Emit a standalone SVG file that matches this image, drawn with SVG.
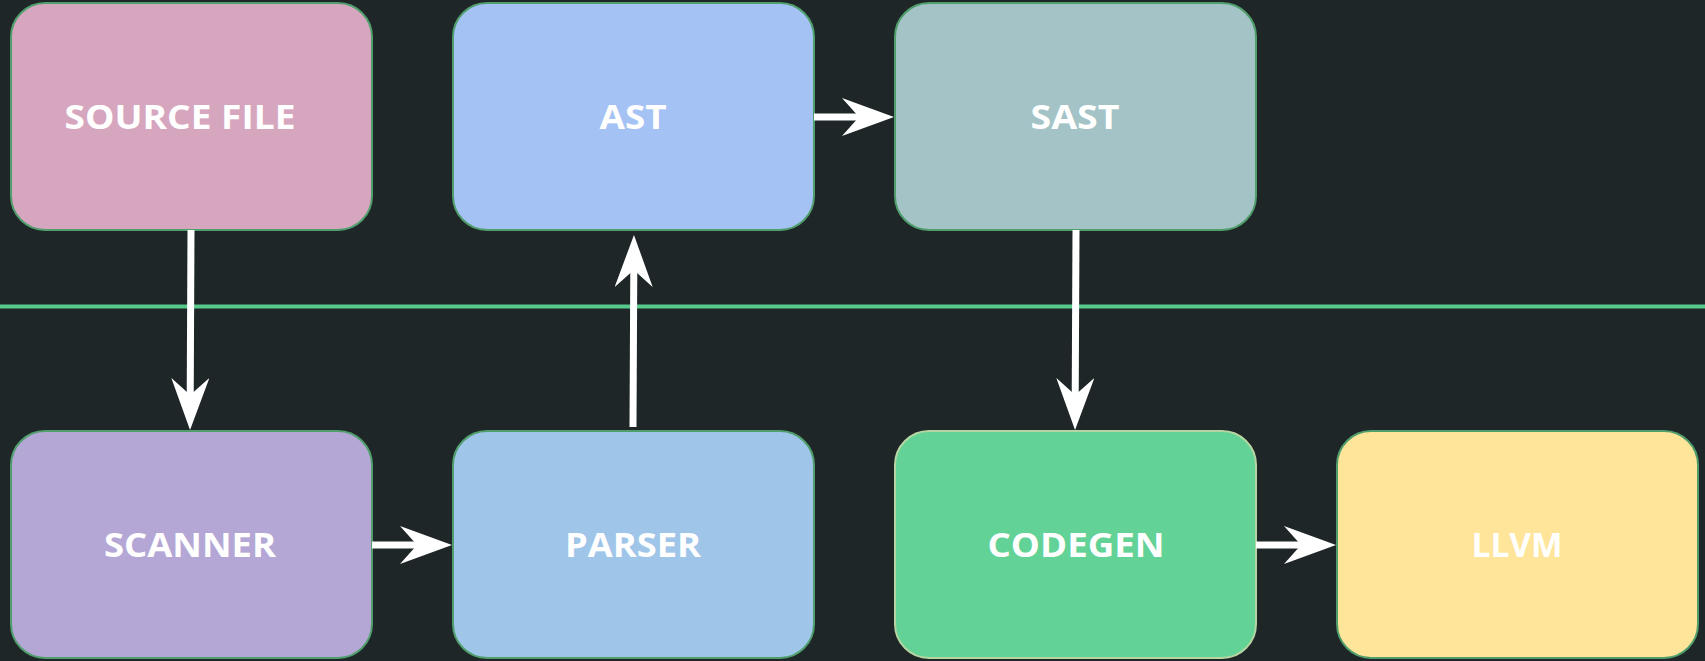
<svg xmlns="http://www.w3.org/2000/svg" width="1705" height="661" viewBox="0 0 1705 661">
<defs>
<style>
.box{stroke:#4f9e6c;stroke-width:2}
.lbl{font-family:"Open Sans","Liberation Sans",sans-serif;font-weight:700;font-size:34px;fill:#ffffff;text-anchor:middle}
.edge{stroke:#ffffff;stroke-width:7;fill:none}
</style>
<marker id="arr" viewBox="0 0 52 38" refX="20" refY="19" markerWidth="52" markerHeight="38" markerUnits="userSpaceOnUse" orient="auto">
<path d="M0,0 L52,19 L0,38 L17,19 Z" fill="#ffffff"/>
</marker>
</defs>
<rect width="1705" height="661" fill="#1f2628"/>
<line x1="0" y1="306.5" x2="1705" y2="306.5" stroke="#57c98b" stroke-width="4"/>
<g id="source-file"><rect class="box" x="11" y="3" width="361" height="227" rx="34" fill="#d6a5be"/><text class="lbl" x="180" y="129" textLength="231" lengthAdjust="spacingAndGlyphs">SOURCE FILE</text></g>
<g id="ast"><rect class="box" x="453" y="3" width="361" height="227" rx="34" fill="#a5c2f4"/><text class="lbl" x="633" y="129" textLength="67" lengthAdjust="spacingAndGlyphs">AST</text></g>
<g id="sast"><rect class="box" x="895" y="3" width="361" height="227" rx="34" fill="#a3c3c7"/><text class="lbl" x="1075" y="129" textLength="89" lengthAdjust="spacingAndGlyphs">SAST</text></g>
<g id="scanner"><rect class="box" x="11" y="431" width="361" height="227" rx="34" fill="#b4a7d5"/><text class="lbl" x="190" y="557" textLength="172" lengthAdjust="spacingAndGlyphs">SCANNER</text></g>
<g id="parser"><rect class="box" x="453" y="431" width="361" height="227" rx="34" fill="#9fc5e8"/><text class="lbl" x="633" y="557" textLength="136" lengthAdjust="spacingAndGlyphs">PARSER</text></g>
<g id="codegen"><rect x="895" y="431" width="361" height="227" rx="34" fill="#63d297" stroke="#b5d6a2" stroke-width="2"/><text class="lbl" x="1076" y="557" textLength="177" lengthAdjust="spacingAndGlyphs">CODEGEN</text></g>
<g id="llvm"><rect class="box" x="1337" y="431" width="361" height="227" rx="34" fill="#fee599"/><text class="lbl" x="1517" y="557" textLength="91" lengthAdjust="spacingAndGlyphs">LLVM</text></g>
<g id="connectors">
<line class="edge" x1="191" y1="230" x2="190.2" y2="398" marker-end="url(#arr)"/>
<line class="edge" x1="372" y1="545" x2="420" y2="545" marker-end="url(#arr)"/>
<line class="edge" x1="633" y1="427" x2="633.8" y2="267" marker-end="url(#arr)"/>
<line class="edge" x1="814" y1="117" x2="862" y2="117" marker-end="url(#arr)"/>
<line class="edge" x1="1076" y1="230" x2="1075.2" y2="398" marker-end="url(#arr)"/>
<line class="edge" x1="1256" y1="545" x2="1304" y2="545" marker-end="url(#arr)"/>
</g>
</svg>
